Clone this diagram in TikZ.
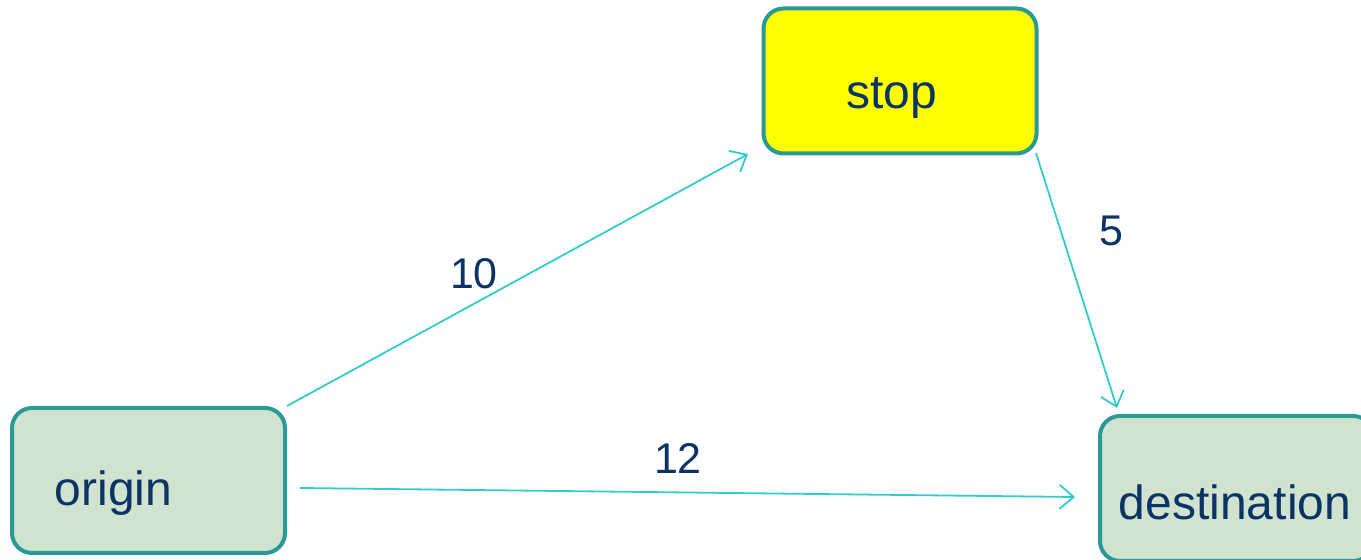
\documentclass[tikz,border=0pt]{standalone}
\usepackage{fontspec}
\setmainfont{Liberation Sans}
\usetikzlibrary{arrows.meta}
\definecolor{boxedge}{HTML}{2A9A94}
\definecolor{boxfill}{HTML}{D0E3CF}
\definecolor{stopfill}{HTML}{FFFF00}
\definecolor{linkcol}{HTML}{33CCCC}
\definecolor{txtcol}{HTML}{0B3366}
\tikzset{
  place/.style={draw=boxedge, line width=2pt, rounded corners=10pt, fill=boxfill,
    minimum width=136.5pt, minimum height=72.5pt, inner sep=0pt},
  placetext/.style={text=txtcol, font=\fontsize{24}{28}\selectfont, inner sep=0pt},
  weight/.style={text=txtcol, font=\fontsize{21.5}{26}\selectfont, inner sep=0pt},
  link/.style={draw=linkcol, line width=0.9pt, -{Straight Barb[length=7pt,width=12pt,line width=0.9pt]}}
}
\begin{document}
\begin{tikzpicture}[x=0.5pt,y=-0.5pt]
\useasboundingbox (0,0) rectangle (1361,560);
\node[place] (origin) at (148.5,480.5) {};
\node[place, fill=stopfill] (stop) at (900,81) {};
\node[place] (dest) at (1236.5,488.5) {};
\node[placetext] (origintext) at (113.5,493) {origin};
\node[placetext] (stoptext) at (892,98) {stop};
\node[placetext] (desttext) at (1235,502) {destination};
\coordinate (a1) at (748,154);
\coordinate (b0) at (1036,153);
\coordinate (b1) at (1117,408);
\coordinate (c0) at (300,488);
\coordinate (c1) at (1075,497);
\draw[link] (origin.north east) -- (a1);
\draw[link] (b0) -- (b1);
\draw[link] (c0) -- (c1);
\node[weight] (w10) at (474,274) {10};
\node[weight] (w5) at (1111,231) {5};
\node[weight] (w12) at (678,458) {12};
\end{tikzpicture}
\end{document}
